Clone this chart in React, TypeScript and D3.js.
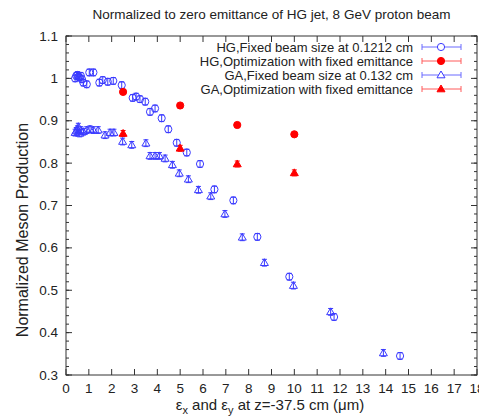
import React from "react";
import * as d3 from "d3";

const title = "Normalized to zero emittance of HG jet, 8 GeV proton beam";
const yLabel = "Normalized Meson Production";

const hgFixedX = [0.4, 0.45, 0.5, 0.55, 0.6, 0.65, 0.7, 0.76, 0.91, 1.02, 1.2, 1.46, 1.61, 1.83, 2.07, 2.44, 2.92, 3.07, 3.24, 3.47, 3.68, 3.9, 4.19, 4.48, 4.85, 5.29, 5.87, 6.5, 7.33, 8.38, 9.78, 11.74, 14.63];
const hgFixedY = [1.0, 1.006, 1.008, 1.004, 1.002, 1.006, 0.998, 0.99, 0.986, 1.014, 1.014, 0.99, 0.996, 0.992, 0.994, 0.984, 0.954, 0.957, 0.951, 0.945, 0.921, 0.929, 0.906, 0.88, 0.848, 0.825, 0.798, 0.738, 0.712, 0.626, 0.532, 0.437, 0.345];

const hgOptX = [2.5, 5, 7.5, 10];
const hgOptY = [0.968, 0.936, 0.89, 0.868];

const gaFixedX = [0.4, 0.45, 0.5, 0.54, 0.6, 0.65, 0.76, 0.91, 1.05, 1.2, 1.41, 1.71, 1.93, 2.1, 2.48, 2.88, 3.5, 3.68, 3.9, 4.09, 4.34, 4.66, 4.96, 5.36, 5.8, 6.34, 6.96, 7.72, 8.69, 9.96, 11.59, 13.9];
const gaFixedY = [0.872, 0.876, 0.88, 0.886, 0.87, 0.878, 0.874, 0.878, 0.88, 0.878, 0.878, 0.866, 0.872, 0.872, 0.851, 0.843, 0.847, 0.817, 0.817, 0.817, 0.811, 0.796, 0.776, 0.762, 0.737, 0.722, 0.68, 0.625, 0.565, 0.511, 0.449, 0.352];

const gaOptX = [2.5, 5, 7.5, 10];
const gaOptY = [0.87, 0.835, 0.798, 0.777];

const legendLabels = [
  "HG,Fixed beam size at 0.1212 cm",
  "HG,Optimization with fixed emittance",
  "GA,Fixed beam size at 0.132 cm",
  "GA,Optimization with fixed emittance",
];

const xTicks = d3.range(0, 19, 1);
const yTicks = [0.3, 0.4, 0.5, 0.6, 0.7, 0.8, 0.9, 1, 1.1];
const yMinor = d3.range(0.3, 1.1001, 0.02);

const W = 479, H = 417;
const L = 66, R = 477, T = 36, B = 375;

const font = "'Liberation Sans', Arial, sans-serif";
const BLUE = "#3a3aff";
const RED = "#ff0000";
const AX = "#333";

function Circle({ cx, cy, fill, stroke }: any) {
  return <circle cx={cx} cy={cy} r={3.6} fill={fill} stroke={stroke} strokeWidth={1} />;
}
function Tri({ cx, cy, fill, stroke }: any) {
  const s = 4;
  const p = `${cx},${cy - s} ${cx - s},${cy + s * 0.7} ${cx + s},${cy + s * 0.7}`;
  return <polygon points={p} fill={fill} stroke={stroke} strokeWidth={1} />;
}

export default function App() {
  const x = d3.scaleLinear().domain([0, 18]).range([L, R]);
  const y = d3.scaleLinear().domain([0.3, 1.1]).range([B, T]);

  const errBar = (cx: number, v: number, e: number, color: string, key: string) => (
    <g key={key} stroke={color} strokeWidth={1}>
      <line x1={cx} x2={cx} y1={y(v - e)} y2={y(v + e)} />
      <line x1={cx - 2.5} x2={cx + 2.5} y1={y(v - e)} y2={y(v - e)} />
      <line x1={cx - 2.5} x2={cx + 2.5} y1={y(v + e)} y2={y(v + e)} />
    </g>
  );

  const legendY = (i: number) => 47 + i * 14;
  const lx1 = 422, lx2 = 461, lxm = 441;

  return (
    <svg width={W} height={H} style={{ position: "absolute", left: 0, top: 0, background: "#fff" }} fontFamily={font}>
      <rect x={0} y={0} width={W} height={H} fill="#fff" />
      <text x={(L + R) / 2} y={19} textAnchor="middle" fontSize={13.5} fill="#222">{title}</text>

      {xTicks.map((t) => (
        <g key={"xt" + t} stroke={AX} strokeWidth={1}>
          <line x1={x(t)} x2={x(t)} y1={B} y2={B - 6} />
          <line x1={x(t)} x2={x(t)} y1={T} y2={T + 6} />
        </g>
      ))}
      {xTicks.map((t) => (
        <text key={"xl" + t} x={x(t)} y={B + 18} textAnchor="middle" fontSize={13.5} fill="#222">{t}</text>
      ))}
      {yMinor.map((t, i) => (
        <g key={"ym" + i} stroke={AX} strokeWidth={1}>
          <line x1={L} x2={L + 3} y1={y(t)} y2={y(t)} />
          <line x1={R} x2={R - 3} y1={y(t)} y2={y(t)} />
        </g>
      ))}
      {yTicks.map((t) => (
        <g key={"yt" + t} stroke={AX} strokeWidth={1}>
          <line x1={L} x2={L + 6} y1={y(t)} y2={y(t)} />
          <line x1={R} x2={R - 6} y1={y(t)} y2={y(t)} />
        </g>
      ))}
      {yTicks.map((t) => (
        <text key={"yl" + t} x={L - 8} y={y(t) + 4.5} textAnchor="end" fontSize={13.5} fill="#222">{d3.format("")(t)}</text>
      ))}
      <rect x={L} y={T} width={R - L} height={B - T} fill="none" stroke={AX} strokeWidth={1} />

      <text transform={`translate(28,${230}) rotate(-90)`} textAnchor="middle" fontSize={16} fill="#222">{yLabel}</text>
      <text x={270} y={410} textAnchor="middle" fontSize={15} fill="#222">
        ε<tspan fontSize={11} dy={4}>x</tspan><tspan dy={-4}> and ε</tspan><tspan fontSize={11} dy={4}>y</tspan><tspan dy={-4}> at z=-37.5 cm (μm)</tspan>
      </text>

      {legendLabels.map((lab, i) => (
        <text key={"lg" + i} x={413} y={legendY(i) + 4.5} textAnchor="end" fontSize={13} fill="#222">{lab}</text>
      ))}
      {legendLabels.map((lab, i) => {
        const c = i % 2 === 0 ? "#6a6aff" : "#ff5a5a";
        const yy = legendY(i);
        return (
          <g key={"ls" + i}>
            <g stroke={c} strokeWidth={1}>
              <line x1={lx1} x2={lx2} y1={yy} y2={yy} />
              <line x1={lx1} x2={lx1} y1={yy - 3} y2={yy + 3} />
              <line x1={lx2} x2={lx2} y1={yy - 3} y2={yy + 3} />
            </g>
            {i === 0 && <Circle cx={lxm} cy={yy} fill="#fff" stroke={BLUE} />}
            {i === 1 && <Circle cx={lxm} cy={yy} fill={RED} stroke={RED} />}
            {i === 2 && <Tri cx={lxm} cy={yy} fill="#fff" stroke={BLUE} />}
            {i === 3 && <Tri cx={lxm} cy={yy} fill={RED} stroke={RED} />}
          </g>
        );
      })}

      {gaFixedX.map((v, i) => (
        <g key={"ga" + i}>
          <Tri cx={x(v)} cy={y(gaFixedY[i])} fill="none" stroke={BLUE} />
          {errBar(x(v), gaFixedY[i], 0.008, BLUE, "gae" + i)}
        </g>
      ))}
      {hgFixedX.map((v, i) => (
        <g key={"hg" + i}>
          <Circle cx={x(v)} cy={y(hgFixedY[i])} fill="none" stroke={BLUE} />
          {errBar(x(v), hgFixedY[i], 0.008, BLUE, "hge" + i)}
        </g>
      ))}
      {hgOptX.map((v, i) => (
        <g key={"ho" + i}>
          {errBar(x(v), hgOptY[i], 0.005, RED, "hoe" + i)}
          <Circle cx={x(v)} cy={y(hgOptY[i])} fill={RED} stroke={RED} />
        </g>
      ))}
      {gaOptX.map((v, i) => (
        <g key={"go" + i}>
          {errBar(x(v), gaOptY[i], 0.007, RED, "goe" + i)}
          <Tri cx={x(v)} cy={y(gaOptY[i])} fill={RED} stroke={RED} />
        </g>
      ))}
    </svg>
  );
}
